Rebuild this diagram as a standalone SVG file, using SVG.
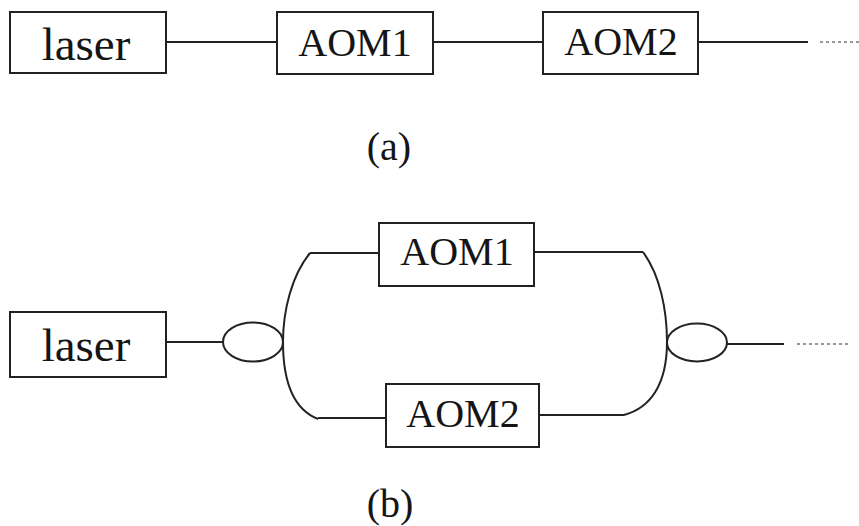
<svg xmlns="http://www.w3.org/2000/svg" width="859" height="526" viewBox="0 0 859 526">
<style>
.box{fill:#fff;stroke:#222;stroke-width:2}
.ln{fill:none;stroke:#222;stroke-width:2}
.dot{fill:none;stroke:#777;stroke-width:1.5;stroke-dasharray:3 3}
.t{font-family:"Liberation Serif","Times New Roman",serif;fill:#151515;text-anchor:middle}
.big{font-size:47px}
.mid{font-size:40px}
</style>
<rect width="859" height="526" fill="#fff"/>
<g id="connectors">
<line class="ln" x1="166" y1="42" x2="277" y2="42"/>
<line class="ln" x1="433" y1="42" x2="543" y2="42"/>
<line class="ln" x1="698" y1="42" x2="808" y2="42"/>
<line class="dot" x1="820" y1="42" x2="859" y2="42"/>
<line class="ln" x1="166" y1="342" x2="223" y2="342"/>
<path class="ln" d="M310,253 C292,275 283,310 283,342 C283,385 295,410 318,419"/>
<line class="ln" x1="310" y1="253" x2="379" y2="253"/>
<line class="ln" x1="318" y1="418" x2="386" y2="418"/>
<line class="ln" x1="534" y1="252" x2="643" y2="252"/>
<line class="ln" x1="539" y1="415" x2="624" y2="415"/>
<path class="ln" d="M643,252 C660,275 667,310 667,342 C667,385 650,408 624,415"/>
<line class="ln" x1="727" y1="344" x2="784" y2="344"/>
<line class="dot" x1="797" y1="344" x2="850" y2="344"/>
</g>
<g id="laser-a"><rect class="box" x="10" y="12" width="156" height="61"/><text class="t big" x="86" y="60">laser</text></g>
<g id="aom1-a"><rect class="box" x="277" y="12" width="156" height="62"/><text class="t mid" x="355" y="56">AOM1</text></g>
<g id="aom2-a"><rect class="box" x="543" y="12" width="155" height="62"/><text class="t mid" x="621" y="55">AOM2</text></g>
<g id="label-a"><text class="t mid" x="389" y="160">(a)</text></g>
<g id="laser-b"><rect class="box" x="10" y="312" width="156" height="65"/><text class="t big" x="86" y="361">laser</text></g>
<g id="splitter-in"><ellipse class="ln" cx="253" cy="342" rx="30" ry="19.5"/></g>
<g id="aom1-b"><rect class="box" x="379" y="223" width="155" height="63"/><text class="t mid" x="457" y="265">AOM1</text></g>
<g id="aom2-b"><rect class="box" x="386" y="384" width="153" height="63"/><text class="t mid" x="463" y="427">AOM2</text></g>
<g id="splitter-out"><ellipse class="ln" cx="697" cy="342.5" rx="30" ry="19"/></g>
<g id="label-b"><text class="t mid" x="390" y="517">(b)</text></g>
</svg>
